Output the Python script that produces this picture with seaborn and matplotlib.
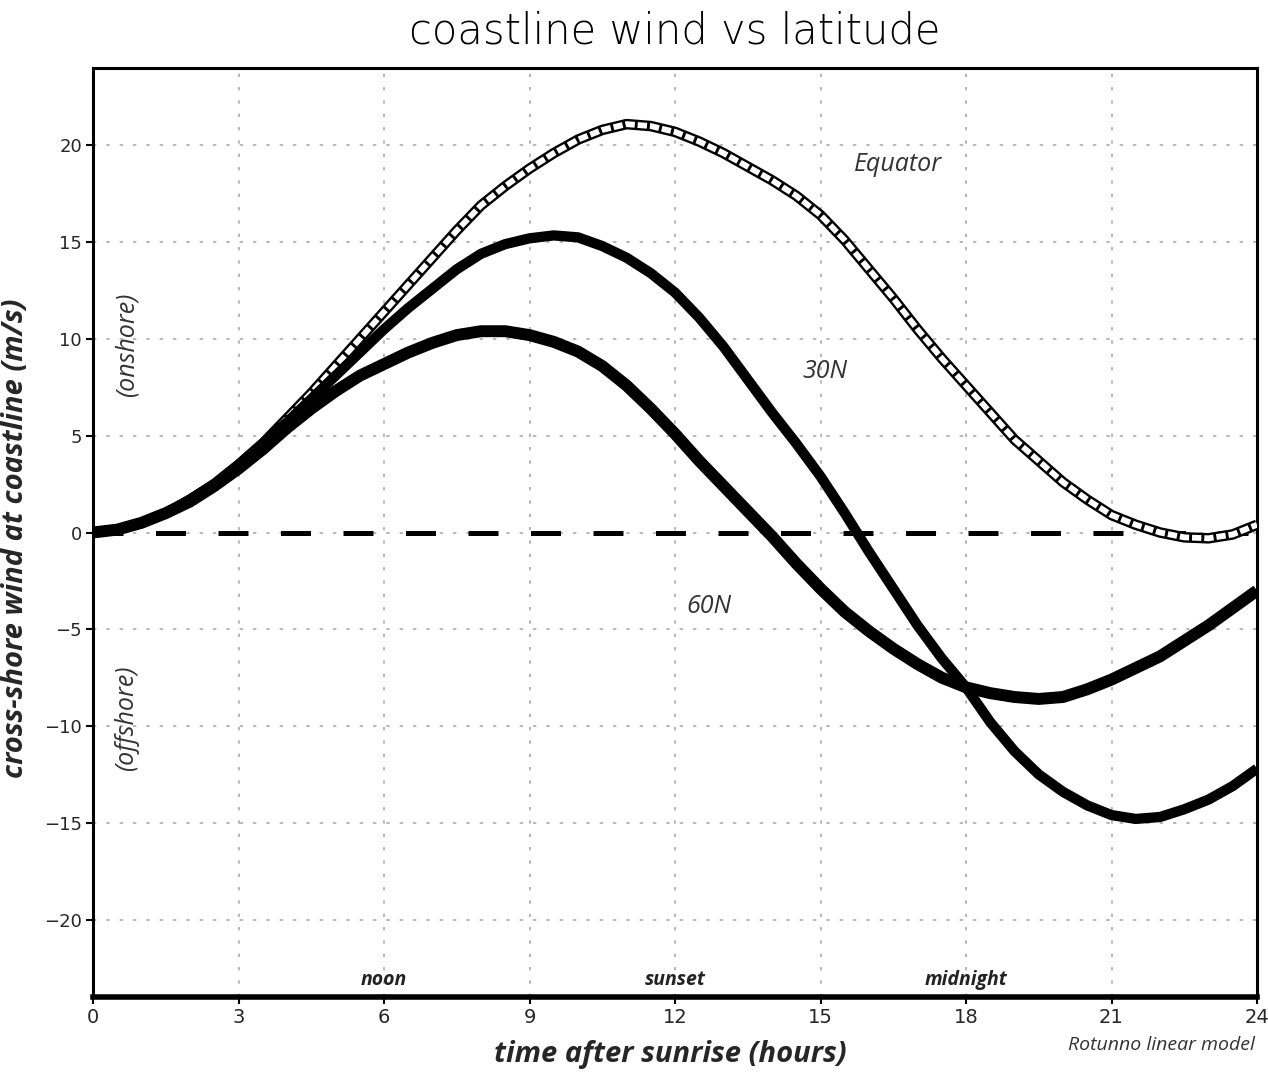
import numpy as np
import pandas as pd
import matplotlib
matplotlib.use("Agg")
import matplotlib.pyplot as plt
from matplotlib import font_manager
import seaborn as sns

# ---- data (every half hour) ----
hours = [i * 0.5 for i in range(49)]
equator = [0.0, 0.15, 0.5, 1.0, 1.7, 2.5, 3.5, 4.6, 5.9, 7.2, 8.6, 10.0, 11.4,
           12.8, 14.2, 15.6, 16.9, 17.9, 18.8, 19.6, 20.3, 20.8, 21.1, 21.0, 20.7,
           20.2, 19.6, 18.9, 18.2, 17.4, 16.4, 15.1, 13.6, 12.1, 10.5, 9.0, 7.6,
           6.2, 4.8, 3.7, 2.6, 1.7, 0.9, 0.4, 0.0, -0.25, -0.3, -0.1, 0.4]
lat30n = [0.0, 0.15, 0.5, 1.0, 1.7, 2.5, 3.5, 4.6, 5.7, 6.9, 8.1, 9.3, 10.5,
          11.6, 12.6, 13.6, 14.4, 14.9, 15.2, 15.35, 15.25, 14.8, 14.2, 13.4, 12.4,
          11.1, 9.6, 7.9, 6.2, 4.6, 2.9, 1.0, -1.0, -2.9, -4.8, -6.5, -8.0,
          -9.8, -11.3, -12.5, -13.4, -14.1, -14.6, -14.8, -14.7, -14.3, -13.8, -13.1, -12.2]
lat60n = [0.0, 0.15, 0.5, 1.0, 1.6, 2.4, 3.3, 4.3, 5.4, 6.4, 7.3, 8.1, 8.7,
          9.3, 9.8, 10.2, 10.4, 10.4, 10.2, 9.85, 9.35, 8.6, 7.6, 6.4, 5.1,
          3.7, 2.4, 1.1, -0.2, -1.6, -2.9, -4.1, -5.1, -6.0, -6.8, -7.5, -8.0,
          -8.3, -8.5, -8.6, -8.5, -8.1, -7.6, -7.0, -6.4, -5.6, -4.8, -3.9, -3.0]
xticks = [0, 3, 6, 9, 12, 15, 18, 21, 24]
yticks = [-20, -15, -10, -5, 0, 5, 10, 15, 20]
period_labels = ["noon", "sunset", "midnight"]
period_hours = [6, 12, 18]

n = len(hours)
df = pd.DataFrame({"hour": hours * 3,
                   "wind": equator + lat30n + lat60n,
                   "lat": ["Equator"] * n + ["30N"] * n + ["60N"] * n})

sns.set_theme(style="white")
names = {f.name for f in font_manager.fontManager.ttflist}
narrow = "Liberation Sans Narrow" if "Liberation Sans Narrow" in names else "DejaVu Sans"
plt.rcParams["font.family"] = [narrow, "DejaVu Sans"]
italic_font = "Open Sans" if "Open Sans" in names else "DejaVu Sans"

fig = plt.figure(figsize=(12.68, 10.74), dpi=100)
ax = fig.add_axes([93 / 1268, 1 - 997 / 1074, 1164 / 1268, 929 / 1074])

# grid
for xv in xticks:
    ax.axvline(xv, color="#aaaaaa", lw=1.2, ls=(0, (2, 6)), zorder=0)
for yv in yticks:
    ax.axhline(yv, color="#aaaaaa", lw=1.2, ls=(0, (2, 6)), zorder=0)

# zero line
ax.axhline(0, color="black", lw=3.6, ls=(0, (6, 6.5)), zorder=1)

# curves
sns.lineplot(data=df[df.lat == "Equator"], x="hour", y="wind", color="black", lw=7.6,
             ax=ax, legend=False, zorder=3)
sns.lineplot(data=df[df.lat == "Equator"], x="hour", y="wind", color="white", lw=4.2,
             ax=ax, legend=False, zorder=3.5)
ax.lines[-1].set_linestyle((0, (1.6, 0.5)))
sns.lineplot(data=df[df.lat == "30N"], x="hour", y="wind", color="black", lw=7.4,
             ax=ax, legend=False, zorder=4)
sns.lineplot(data=df[df.lat == "60N"], x="hour", y="wind", color="black", lw=8.6,
             ax=ax, legend=False, zorder=5)
for ln in ax.lines[-4:]:
    ln.set_solid_joinstyle("round")
    ln.set_dash_joinstyle("round")
    ln.set_solid_capstyle("butt")

ax.set_xlim(0, 24)
ax.set_ylim(-24, 24)
ax.set_xticks(xticks)
ax.set_xticklabels([str(v) for v in xticks], fontsize=14)
ax.set_yticks(yticks)
ax.set_yticklabels([str(v).replace("-", "\u2212") for v in yticks], fontsize=13)
ax.tick_params(axis="both", direction="out", length=5, width=1.5, color="black",
               bottom=True, left=True, pad=3)

for s in ["left", "right", "top"]:
    ax.spines[s].set_linewidth(2.2)
    ax.spines[s].set_color("black")
ax.spines["bottom"].set_linewidth(4)
ax.spines["bottom"].set_color("black")

ax.set_xlabel("time after sunrise (hours)", fontsize=21, fontweight="bold",
              fontstyle="italic", family=[italic_font, "DejaVu Sans"])
ax.xaxis.set_label_coords((670 - 93) / 1164, (997 - 1040) / 929)
ax.set_ylabel("cross-shore wind at coastline (m/s)", fontsize=21, fontweight="bold",
              fontstyle="italic", family=[italic_font, "DejaVu Sans"])
ax.yaxis.set_label_coords((30 - 93) / 1164, (997 - 538) / 929)

# annotations
anno = dict(fontstyle="italic", color="#333333", fontsize=18,
            family=[italic_font, "DejaVu Sans"], ha="center", va="center")
ax.text(16.6, 19.0, "Equator", **anno)
ax.text(15.1, 8.3, "30N", **anno)
ax.text(12.7, -3.8, "60N", **anno)
ax.text(0.7, 9.7, "(onshore)", rotation=90, **anno)
ax.text(0.7, -9.6, "(offshore)", rotation=90, **anno)
for lab, hv in zip(period_labels, period_hours):
    ax.text(hv, -23.1, lab, fontstyle="italic", fontweight="bold", fontsize=14,
            color="#222222", family=[italic_font, "DejaVu Sans"], ha="center", va="center")

fig.text(675 / 1268, 1 - 31 / 1074, "coastline wind vs latitude", fontsize=30,
         fontweight="light", ha="center", va="center", color="black")
fig.text(1255 / 1268, 1 - 1045 / 1074, "Rotunno linear model", fontsize=14,
         fontstyle="italic", color="#333333", family=[italic_font, "DejaVu Sans"],
         ha="right", va="center")

fig.savefig("out.png", dpi=100, facecolor="white")
